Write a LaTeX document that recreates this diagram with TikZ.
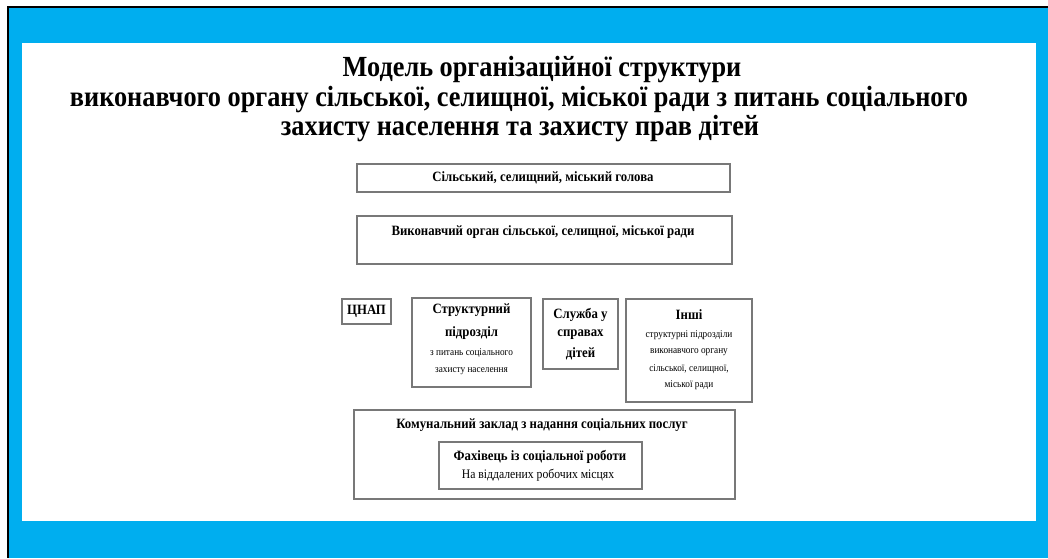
\documentclass[tikz,border=0pt]{standalone}
\usepackage{fontspec}
\setmainfont{Liberation Serif}
\newfontfamily\condf[FakeStretch=0.9]{Liberation Serif}
\definecolor{frameblue}{RGB}{0,174,239}
\definecolor{boxgray}{RGB}{120,120,120}
\tikzset{
  boxr/.style={draw=boxgray, line width=1.3pt, fill=white, inner sep=0pt},
  ttl/.style={font=\condf\fontsize{29.2}{30}\selectfont\bfseries, inner sep=0pt, anchor=center},
  btxt/.style={font=\condf\fontsize{14.2}{18}\selectfont\bfseries, inner sep=0pt, align=center},
  stxt/.style={font=\condf\fontsize{10.3}{17}\selectfont, inner sep=0pt, align=center},
}
\begin{document}
\begin{tikzpicture}[x=1pt,y=-1pt]
\useasboundingbox (0,0) rectangle (1048,558);
\fill[black] (7,6) rectangle (1048,558);
\fill[frameblue] (9,8) rectangle (1048,558);
\fill[white] (22,43) rectangle (1036,521);

% title
\node[ttl] (t1) at (542,70) {Модель організаційної структури};
\node[ttl] (t2) at (519,100) {виконавчого органу сільської, селищної, міської ради з питань соціального};
\node[ttl] (t3) at (520,129) {захисту населення та захисту прав дітей};

% boxes
\draw[boxr] (357,164) rectangle (730,192) node[pos=0.5] (b1) {};
\node[btxt] (b1t) at (543,178) {Сільський, селищний, міський голова};

\draw[boxr] (357,216) rectangle (732,264) node[pos=0.5] (b2) {};
\node[btxt] (b2t) at (543,232) {Виконавчий орган сільської, селищної, міської ради};

\draw[boxr] (342,299) rectangle (391,324) node[pos=0.5] (b3) {};
\node[btxt] (b3t) at (366.5,311.5) {ЦНАП};

\draw[boxr] (412,298) rectangle (531,387) node[pos=0.5] (b4) {};
\node[btxt] (b4a) at (471.5,310) {Структурний};
\node[btxt] (b4b) at (471.5,333) {підрозділ};
\node[stxt] (b4c) at (471.5,353) {з питань соціального};
\node[stxt] (b4d) at (471.5,371) {захисту населення};

\draw[boxr] (543,299) rectangle (618,369) node[pos=0.5] (b5) {};
\node[btxt] (b5a) at (580.5,315) {Служба у};
\node[btxt] (b5b) at (580.5,335) {справах};
\node[btxt] (b5c) at (580.5,354) {дітей};

\draw[boxr] (626,299) rectangle (752,402) node[pos=0.5] (b6) {};
\node[btxt] (b6a) at (689,315) {Інші};
\node[stxt] (b6b) at (689,335) {структурні підрозділи};
\node[stxt] (b6c) at (689,352) {виконавчого органу};
\node[stxt] (b6d) at (689,369) {сільської, селищної,};
\node[stxt] (b6e) at (689,385) {міської ради};

\draw[boxr] (354,410) rectangle (735,499) node[pos=0.5] (b7) {};
\node[btxt] (b7t) at (542,425) {Комунальний заклад з надання соціальних послуг};

\draw[boxr] (439,442) rectangle (642,489) node[pos=0.5] (b8) {};
\node[btxt] (b8a) at (540,457) {Фахівець із соціальної роботи};
\node[stxt, font=\condf\fontsize{13}{13}\selectfont] (b8b) at (538,475) {На віддалених робочих місцях};
\end{tikzpicture}
\end{document}
